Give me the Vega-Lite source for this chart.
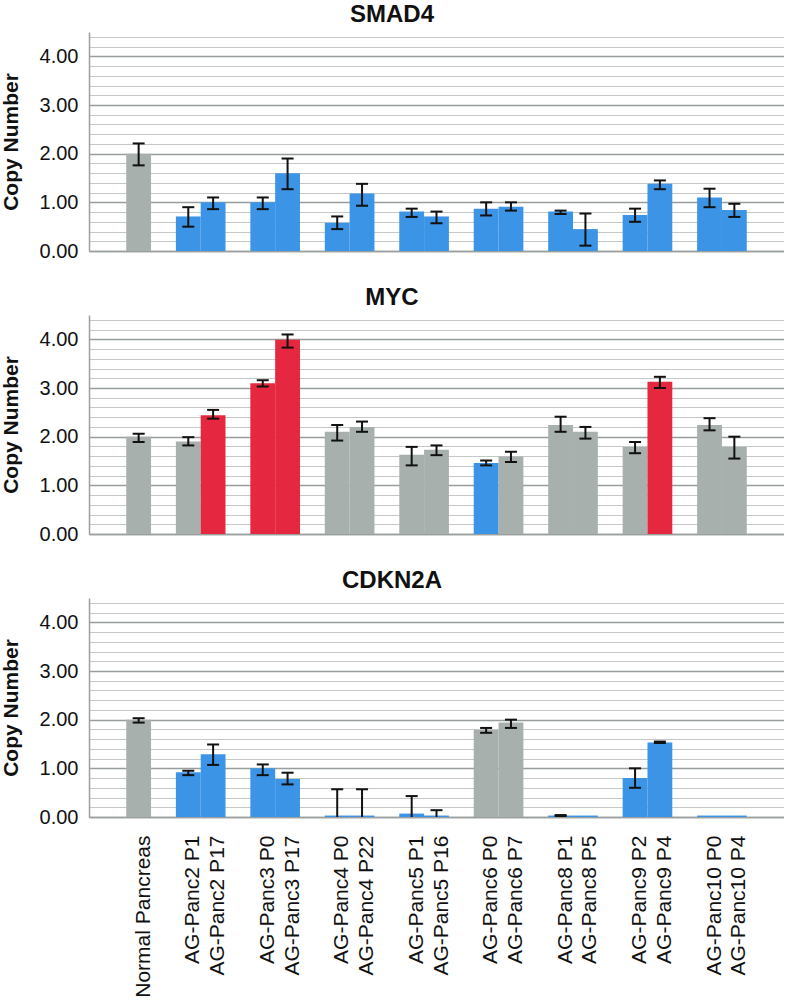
{
  "$schema": "https://vega.github.io/schema/vega-lite/v6.json",
  "padding": {"left": 0, "top": 3, "right": 0, "bottom": 0},
  "background": "white",
  "data": {
    "values": [
      {"gene": "SMAD4", "sample": "Normal Pancreas", "value": 2.00, "lo": 1.76, "hi": 2.21, "status": "normal"},
      {"gene": "SMAD4", "sample": "AG-Panc2 P1", "value": 0.71, "lo": 0.50, "hi": 0.90, "status": "loss"},
      {"gene": "SMAD4", "sample": "AG-Panc2 P17", "value": 1.00, "lo": 0.86, "hi": 1.10, "status": "loss"},
      {"gene": "SMAD4", "sample": "AG-Panc3 P0", "value": 1.00, "lo": 0.86, "hi": 1.10, "status": "loss"},
      {"gene": "SMAD4", "sample": "AG-Panc3 P17", "value": 1.60, "lo": 1.27, "hi": 1.90, "status": "loss"},
      {"gene": "SMAD4", "sample": "AG-Panc4 P0", "value": 0.58, "lo": 0.45, "hi": 0.71, "status": "loss"},
      {"gene": "SMAD4", "sample": "AG-Panc4 P22", "value": 1.18, "lo": 0.93, "hi": 1.38, "status": "loss"},
      {"gene": "SMAD4", "sample": "AG-Panc5 P1", "value": 0.81, "lo": 0.70, "hi": 0.87, "status": "loss"},
      {"gene": "SMAD4", "sample": "AG-Panc5 P16", "value": 0.71, "lo": 0.57, "hi": 0.81, "status": "loss"},
      {"gene": "SMAD4", "sample": "AG-Panc6 P0", "value": 0.87, "lo": 0.73, "hi": 1.00, "status": "loss"},
      {"gene": "SMAD4", "sample": "AG-Panc6 P7", "value": 0.91, "lo": 0.83, "hi": 1.00, "status": "loss"},
      {"gene": "SMAD4", "sample": "AG-Panc8 P1", "value": 0.81, "lo": 0.76, "hi": 0.83, "status": "loss"},
      {"gene": "SMAD4", "sample": "AG-Panc8 P5", "value": 0.45, "lo": 0.11, "hi": 0.77, "status": "loss"},
      {"gene": "SMAD4", "sample": "AG-Panc9 P2", "value": 0.74, "lo": 0.60, "hi": 0.87, "status": "loss"},
      {"gene": "SMAD4", "sample": "AG-Panc9 P4", "value": 1.38, "lo": 1.27, "hi": 1.45, "status": "loss"},
      {"gene": "SMAD4", "sample": "AG-Panc10 P0", "value": 1.10, "lo": 0.90, "hi": 1.28, "status": "loss"},
      {"gene": "SMAD4", "sample": "AG-Panc10 P4", "value": 0.84, "lo": 0.70, "hi": 0.97, "status": "loss"},
      {"gene": "MYC", "sample": "Normal Pancreas", "value": 2.00, "lo": 1.89, "hi": 2.06, "status": "normal"},
      {"gene": "MYC", "sample": "AG-Panc2 P1", "value": 1.90, "lo": 1.82, "hi": 1.99, "status": "normal"},
      {"gene": "MYC", "sample": "AG-Panc2 P17", "value": 2.44, "lo": 2.37, "hi": 2.55, "status": "gain"},
      {"gene": "MYC", "sample": "AG-Panc3 P0", "value": 3.10, "lo": 3.03, "hi": 3.16, "status": "gain"},
      {"gene": "MYC", "sample": "AG-Panc3 P17", "value": 3.99, "lo": 3.83, "hi": 4.10, "status": "gain"},
      {"gene": "MYC", "sample": "AG-Panc4 P0", "value": 2.10, "lo": 1.92, "hi": 2.24, "status": "normal"},
      {"gene": "MYC", "sample": "AG-Panc4 P22", "value": 2.20, "lo": 2.10, "hi": 2.31, "status": "normal"},
      {"gene": "MYC", "sample": "AG-Panc5 P1", "value": 1.63, "lo": 1.41, "hi": 1.79, "status": "normal"},
      {"gene": "MYC", "sample": "AG-Panc5 P16", "value": 1.73, "lo": 1.62, "hi": 1.82, "status": "normal"},
      {"gene": "MYC", "sample": "AG-Panc6 P0", "value": 1.46, "lo": 1.41, "hi": 1.51, "status": "loss"},
      {"gene": "MYC", "sample": "AG-Panc6 P7", "value": 1.59, "lo": 1.48, "hi": 1.69, "status": "normal"},
      {"gene": "MYC", "sample": "AG-Panc8 P1", "value": 2.24, "lo": 2.10, "hi": 2.41, "status": "normal"},
      {"gene": "MYC", "sample": "AG-Panc8 P5", "value": 2.10, "lo": 1.96, "hi": 2.20, "status": "normal"},
      {"gene": "MYC", "sample": "AG-Panc9 P2", "value": 1.79, "lo": 1.66, "hi": 1.89, "status": "normal"},
      {"gene": "MYC", "sample": "AG-Panc9 P4", "value": 3.13, "lo": 3.00, "hi": 3.23, "status": "gain"},
      {"gene": "MYC", "sample": "AG-Panc10 P0", "value": 2.24, "lo": 2.13, "hi": 2.38, "status": "normal"},
      {"gene": "MYC", "sample": "AG-Panc10 P4", "value": 1.79, "lo": 1.55, "hi": 2.00, "status": "normal"},
      {"gene": "CDKN2A", "sample": "Normal Pancreas", "value": 2.00, "lo": 1.94, "hi": 2.03, "status": "normal"},
      {"gene": "CDKN2A", "sample": "AG-Panc2 P1", "value": 0.92, "lo": 0.86, "hi": 0.95, "status": "loss"},
      {"gene": "CDKN2A", "sample": "AG-Panc2 P17", "value": 1.29, "lo": 1.07, "hi": 1.49, "status": "loss"},
      {"gene": "CDKN2A", "sample": "AG-Panc3 P0", "value": 1.00, "lo": 0.86, "hi": 1.08, "status": "loss"},
      {"gene": "CDKN2A", "sample": "AG-Panc3 P17", "value": 0.78, "lo": 0.67, "hi": 0.91, "status": "loss"},
      {"gene": "CDKN2A", "sample": "AG-Panc4 P0", "value": 0.03, "lo": -0.51, "hi": 0.57, "status": "loss"},
      {"gene": "CDKN2A", "sample": "AG-Panc4 P22", "value": 0.03, "lo": -0.51, "hi": 0.57, "status": "loss"},
      {"gene": "CDKN2A", "sample": "AG-Panc5 P1", "value": 0.07, "lo": -0.29, "hi": 0.43, "status": "loss"},
      {"gene": "CDKN2A", "sample": "AG-Panc5 P16", "value": 0.03, "lo": -0.08, "hi": 0.14, "status": "loss"},
      {"gene": "CDKN2A", "sample": "AG-Panc6 P0", "value": 1.79, "lo": 1.73, "hi": 1.83, "status": "normal"},
      {"gene": "CDKN2A", "sample": "AG-Panc6 P7", "value": 1.94, "lo": 1.83, "hi": 2.00, "status": "normal"},
      {"gene": "CDKN2A", "sample": "AG-Panc8 P1", "value": 0.03, "lo": 0.02, "hi": 0.04, "status": "loss"},
      {"gene": "CDKN2A", "sample": "AG-Panc8 P5", "value": 0.03, "lo": null, "hi": null, "status": "loss"},
      {"gene": "CDKN2A", "sample": "AG-Panc9 P2", "value": 0.80, "lo": 0.60, "hi": 1.00, "status": "loss"},
      {"gene": "CDKN2A", "sample": "AG-Panc9 P4", "value": 1.53, "lo": 1.52, "hi": 1.55, "status": "loss"},
      {"gene": "CDKN2A", "sample": "AG-Panc10 P0", "value": 0.03, "lo": null, "hi": null, "status": "loss"},
      {"gene": "CDKN2A", "sample": "AG-Panc10 P4", "value": 0.03, "lo": null, "hi": null, "status": "loss"}
    ]
  },
  "spacing": 25,
  "vconcat": [
    {
      "title": {"text": "SMAD4"},
      "transform": [{"filter": "datum.gene === 'SMAD4'"}],
      "width": 695,
      "height": 219,
      "encoding": {
        "x": {"field": "sample", "type": "nominal", "title": null,
          "scale": {"domain": ["_0", "Normal Pancreas", "_1", "AG-Panc2 P1", "AG-Panc2 P17", "_2", "AG-Panc3 P0", "AG-Panc3 P17", "_3", "AG-Panc4 P0", "AG-Panc4 P22", "_4", "AG-Panc5 P1", "AG-Panc5 P16", "_5", "AG-Panc6 P0", "AG-Panc6 P7", "_6", "AG-Panc8 P1", "AG-Panc8 P5", "_7", "AG-Panc9 P2", "AG-Panc9 P4", "_8", "AG-Panc10 P0", "AG-Panc10 P4", "_9"], "paddingInner": 0, "paddingOuter": 0.5},
          "axis": {"labels": false, "ticks": false, "domainColor": "#9aa09e", "domainWidth": 1.5}}
      },
      "layer": [
        {"mark": {"type": "bar"},
          "encoding": {
            "y": {"field": "value", "type": "quantitative", "title": "Copy Number", "scale": {"domain": [0, 4.5], "nice": false},
              "axis": {"values": [0, 0.2, 0.4, 0.6, 0.8, 1, 1.2, 1.4, 1.6, 1.8, 2, 2.2, 2.4, 2.6, 2.8, 3, 3.2, 3.4, 3.6, 3.8, 4, 4.2, 4.4], "tickCount": 40}},
            "color": {"field": "status", "type": "nominal", "scale": {"domain": ["normal", "loss", "gain"], "range": ["#a8b0ae", "#3b94e6", "#e5283f"]}, "legend": null}
          }},
        {"mark": {"type": "rule", "clip": true, "strokeWidth": 2, "color": "#111111"},
          "encoding": {"y": {"field": "lo", "type": "quantitative", "title": "Copy Number"}, "y2": {"field": "hi"}}},
        {"mark": {"type": "tick", "clip": true, "size": 12, "thickness": 2, "color": "#111111", "opacity": 1},
          "encoding": {"y": {"field": "lo", "type": "quantitative", "title": "Copy Number"}}},
        {"mark": {"type": "tick", "clip": true, "size": 12, "thickness": 2, "color": "#111111", "opacity": 1},
          "encoding": {"y": {"field": "hi", "type": "quantitative", "title": "Copy Number"}}}
      ]
    },
    {
      "title": {"text": "MYC"},
      "transform": [{"filter": "datum.gene === 'MYC'"}],
      "width": 695,
      "height": 219,
      "encoding": {
        "x": {"field": "sample", "type": "nominal", "title": null,
          "scale": {"domain": ["_0", "Normal Pancreas", "_1", "AG-Panc2 P1", "AG-Panc2 P17", "_2", "AG-Panc3 P0", "AG-Panc3 P17", "_3", "AG-Panc4 P0", "AG-Panc4 P22", "_4", "AG-Panc5 P1", "AG-Panc5 P16", "_5", "AG-Panc6 P0", "AG-Panc6 P7", "_6", "AG-Panc8 P1", "AG-Panc8 P5", "_7", "AG-Panc9 P2", "AG-Panc9 P4", "_8", "AG-Panc10 P0", "AG-Panc10 P4", "_9"], "paddingInner": 0, "paddingOuter": 0.5},
          "axis": {"labels": false, "ticks": false, "domainColor": "#9aa09e", "domainWidth": 1.5}}
      },
      "layer": [
        {"mark": {"type": "bar"},
          "encoding": {
            "y": {"field": "value", "type": "quantitative", "title": "Copy Number", "scale": {"domain": [0, 4.5], "nice": false},
              "axis": {"values": [0, 0.2, 0.4, 0.6, 0.8, 1, 1.2, 1.4, 1.6, 1.8, 2, 2.2, 2.4, 2.6, 2.8, 3, 3.2, 3.4, 3.6, 3.8, 4, 4.2, 4.4], "tickCount": 40}},
            "color": {"field": "status", "type": "nominal", "scale": {"domain": ["normal", "loss", "gain"], "range": ["#a8b0ae", "#3b94e6", "#e5283f"]}, "legend": null}
          }},
        {"mark": {"type": "rule", "clip": true, "strokeWidth": 2, "color": "#111111"},
          "encoding": {"y": {"field": "lo", "type": "quantitative", "title": "Copy Number"}, "y2": {"field": "hi"}}},
        {"mark": {"type": "tick", "clip": true, "size": 12, "thickness": 2, "color": "#111111", "opacity": 1},
          "encoding": {"y": {"field": "lo", "type": "quantitative", "title": "Copy Number"}}},
        {"mark": {"type": "tick", "clip": true, "size": 12, "thickness": 2, "color": "#111111", "opacity": 1},
          "encoding": {"y": {"field": "hi", "type": "quantitative", "title": "Copy Number"}}}
      ]
    },
    {
      "title": {"text": "CDKN2A"},
      "transform": [{"filter": "datum.gene === 'CDKN2A'"}],
      "width": 695,
      "height": 219,
      "encoding": {
        "x": {"field": "sample", "type": "nominal", "title": null,
          "scale": {"domain": ["_0", "Normal Pancreas", "_1", "AG-Panc2 P1", "AG-Panc2 P17", "_2", "AG-Panc3 P0", "AG-Panc3 P17", "_3", "AG-Panc4 P0", "AG-Panc4 P22", "_4", "AG-Panc5 P1", "AG-Panc5 P16", "_5", "AG-Panc6 P0", "AG-Panc6 P7", "_6", "AG-Panc8 P1", "AG-Panc8 P5", "_7", "AG-Panc9 P2", "AG-Panc9 P4", "_8", "AG-Panc10 P0", "AG-Panc10 P4", "_9"], "paddingInner": 0, "paddingOuter": 0.5},
          "axis": {"ticks": false, "domainColor": "#9aa09e", "domainWidth": 1.5, "labelAngle": -90, "labelAlign": "right", "labelBaseline": "middle", "labelPadding": 18, "labelOffset": 5, "labelFontSize": 21, "labelColor": "#111111", "labelLimit": 300, "labelOverlap": false, "labelExpr": "indexof(datum.value, '_') === 0 ? '' : datum.value"}}
      },
      "layer": [
        {"mark": {"type": "bar"},
          "encoding": {
            "y": {"field": "value", "type": "quantitative", "title": "Copy Number", "scale": {"domain": [0, 4.5], "nice": false},
              "axis": {"values": [0, 0.2, 0.4, 0.6, 0.8, 1, 1.2, 1.4, 1.6, 1.8, 2, 2.2, 2.4, 2.6, 2.8, 3, 3.2, 3.4, 3.6, 3.8, 4, 4.2, 4.4], "tickCount": 40}},
            "color": {"field": "status", "type": "nominal", "scale": {"domain": ["normal", "loss", "gain"], "range": ["#a8b0ae", "#3b94e6", "#e5283f"]}, "legend": null}
          }},
        {"mark": {"type": "rule", "clip": true, "strokeWidth": 2, "color": "#111111"},
          "encoding": {"y": {"field": "lo", "type": "quantitative", "title": "Copy Number"}, "y2": {"field": "hi"}}},
        {"mark": {"type": "tick", "clip": true, "size": 12, "thickness": 2, "color": "#111111", "opacity": 1},
          "encoding": {"y": {"field": "lo", "type": "quantitative", "title": "Copy Number"}}},
        {"mark": {"type": "tick", "clip": true, "size": 12, "thickness": 2, "color": "#111111", "opacity": 1},
          "encoding": {"y": {"field": "hi", "type": "quantitative", "title": "Copy Number"}}}
      ]
    }
  ],
  "resolve": {"scale": {"color": "shared"}},
  "config": {
    "font": "Liberation Sans",
    "view": {"stroke": null},
    "title": {"fontSize": 24, "fontWeight": "bold", "color": "#111111", "anchor": "middle", "frame": "bounds", "offset": 5},
    "axisY": {
      "labelExpr": "datum.value % 1 === 0 ? format(datum.value, '.2f') : ''",
      "labelOverlap": false,
      "labelFontSize": {"condition": {"test": "datum.value % 1 === 0", "value": 20}, "value": 1},
      "grid": true,
      "gridColor": {"condition": {"test": "datum.value % 1 === 0", "value": "#979d9b"}, "value": "#c4c9c8"},
      "gridWidth": {"condition": {"test": "datum.value % 1 === 0", "value": 1.5}, "value": 1},
      "tickOpacity": {"condition": {"test": "datum.value % 1 === 0", "value": 1}, "value": 0},
      "tickSize": 7,
      "tickColor": "#979d9b",
      "domainColor": "#9aa09e",
      "domainWidth": 1.5,
      "labelPadding": 4,
      "labelColor": "#111111",
      "titleFontSize": 21,
      "titleFontWeight": "bold",
      "titleColor": "#111111",
      "titlePadding": 18
    },
    "axisX": {"grid": false}
  }
}
